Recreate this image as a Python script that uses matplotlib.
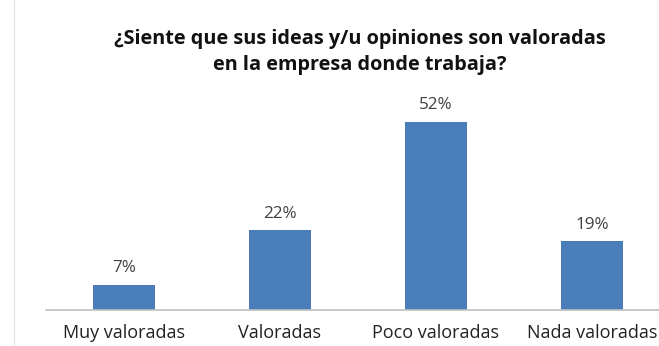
import matplotlib.pyplot as plt

categories = ["Muy valoradas", "Valoradas", "Poco valoradas", "Nada valoradas"]
values = [7, 22, 52, 19]
value_labels = ["7%", "22%", "52%", "19%"]

plt.rcParams["font.family"] = ["Open Sans", "DejaVu Sans"]

W, H = 659, 346
fig = plt.figure(figsize=(W / 100, H / 100), dpi=100)
# baseline at y=310 px, 52% bar top at y=122 px
ax = fig.add_axes([46 / W, (H - 310) / H, 624 / W, 188 / H])

x = range(len(categories))
ax.bar(x, values, width=0.4, color="#4a7ebb")
for xi, v, lab in zip(x, values, value_labels):
    ax.text(xi, v + 2.4, lab, ha="center", va="bottom", fontsize=12.3, color="#404040")

ax.set_ylim(0, 52)
ax.set_xlim(-0.5, 3.5)
ax.set_xticks(list(x))
ax.set_xticklabels(categories, fontsize=13, color="#222222")
ax.tick_params(axis="x", length=0, pad=10)
ax.set_yticks([])
for s in ["top", "right", "left"]:
    ax.spines[s].set_visible(False)
ax.spines["bottom"].set_color("#bfbfbf")
ax.spines["bottom"].set_linewidth(1.2)

fig.text(360 / W, 1 - 52 / H, "¿Siente que sus ideas y/u opiniones son valoradas\nen la empresa donde trabaja?",
         ha="center", va="center", fontsize=14.3, fontweight="bold", color="#111111", linespacing=1.45)

# faint frame line at left edge
fig.add_artist(plt.Line2D([14 / W, 14 / W], [0, 1], color="#e6e6e6", linewidth=1))

fig.savefig("out.png", dpi=100)
